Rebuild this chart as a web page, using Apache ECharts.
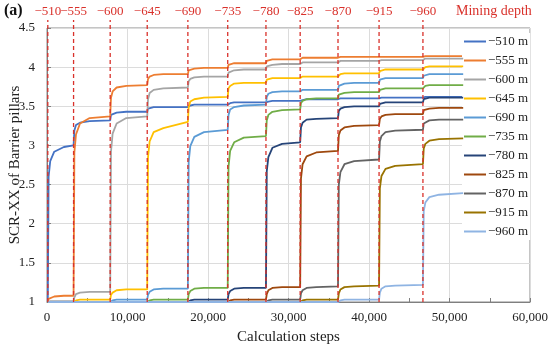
<!DOCTYPE html>
<html><head><meta charset="utf-8">
<script src="https://cdn.jsdelivr.net/npm/echarts@6/dist/echarts.min.js"></script>
<style>html,body{margin:0;padding:0;background:#fff}#c{width:550px;height:350px}</style>
</head><body><div id="c"></div>
<script>
const depthLabels = ['\u2212510','\u2212555','\u2212600','\u2212645','\u2212690','\u2212735','\u2212780','\u2212825','\u2212870','\u2212915','\u2212960'];
const stageStarts = [100, 3300, 7850, 12450, 17500, 22450, 27200, 31450, 36150, 41250, 46700];
const steps = [
  100, 200, 400, 900, 2100,
  3300, 3400, 3600, 4100, 5300,
  7850, 7950, 8150, 8650, 9850,
  12450, 12550, 12750, 13250, 14450,
  17500, 17600, 17800, 18300, 19500,
  22450, 22550, 22750, 23250, 24450,
  27200, 27300, 27500, 28000, 29200,
  31450, 31550, 31750, 32250, 33450,
  36150, 36250, 36450, 36950, 38150,
  41250, 41350, 41550, 42050, 43250,
  46700, 46800, 47000, 47500, 48700,
  51700];
const scr510 = [
  1.00, 2.60, 2.80, 2.92, 2.98,
  3.00, 3.19, 3.26, 3.29, 3.31,
  3.32, 3.39, 3.41, 3.42, 3.43,
  3.43, 3.47, 3.48, 3.49, 3.49,
  3.49, 3.51, 3.51, 3.52, 3.52,
  3.52, 3.54, 3.54, 3.55, 3.55,
  3.55, 3.56, 3.56, 3.57, 3.57,
  3.57, 3.58, 3.58, 3.59, 3.59,
  3.59, 3.59, 3.60, 3.60, 3.60,
  3.60, 3.60, 3.61, 3.61, 3.61,
  3.61, 3.61, 3.62, 3.62, 3.62,
  3.62];
const scr555 = [
  1.00, 1.04, 1.06, 1.07, 1.08,
  1.08, 2.91, 3.14, 3.28, 3.35,
  3.37, 3.61, 3.69, 3.74, 3.76,
  3.77, 3.85, 3.88, 3.90, 3.91,
  3.91, 3.96, 3.97, 3.98, 3.99,
  3.99, 4.03, 4.04, 4.05, 4.05,
  4.05, 4.08, 4.09, 4.10, 4.10,
  4.10, 4.11, 4.12, 4.12, 4.12,
  4.12, 4.13, 4.13, 4.13, 4.13,
  4.13, 4.13, 4.13, 4.13, 4.13,
  4.13, 4.14, 4.14, 4.14, 4.14,
  4.14];
const scr600 = [
  1.00, 1.00, 1.01, 1.01, 1.01,
  1.01, 1.06, 1.10, 1.12, 1.13,
  1.13, 2.92, 3.15, 3.28, 3.35,
  3.37, 3.59, 3.67, 3.71, 3.73,
  3.74, 3.82, 3.85, 3.87, 3.88,
  3.88, 3.93, 3.95, 3.96, 3.97,
  3.97, 4.01, 4.03, 4.03, 4.04,
  4.04, 4.05, 4.06, 4.06, 4.06,
  4.06, 4.07, 4.08, 4.08, 4.08,
  4.08, 4.09, 4.09, 4.09, 4.09,
  4.09, 4.10, 4.11, 4.11, 4.11,
  4.11];
const scr645 = [
  1.00, 1.00, 1.00, 1.00, 1.00,
  1.00, 1.01, 1.02, 1.03, 1.03,
  1.03, 1.09, 1.12, 1.15, 1.16,
  1.16, 2.85, 3.05, 3.17, 3.22,
  3.30, 3.49, 3.56, 3.59, 3.61,
  3.62, 3.73, 3.76, 3.79, 3.80,
  3.80, 3.84, 3.85, 3.86, 3.86,
  3.86, 3.87, 3.88, 3.88, 3.88,
  3.88, 3.90, 3.91, 3.92, 3.92,
  3.92, 3.95, 3.96, 3.97, 3.97,
  3.97, 3.99, 4.00, 4.01, 4.01,
  4.01];
const scr690 = [
  1.00, 1.00, 1.00, 1.00, 1.00,
  1.00, 1.00, 1.00, 1.00, 1.00,
  1.00, 1.01, 1.02, 1.03, 1.03,
  1.03, 1.09, 1.13, 1.16, 1.17,
  1.17, 2.79, 2.99, 3.11, 3.17,
  3.20, 3.39, 3.46, 3.49, 3.51,
  3.52, 3.62, 3.66, 3.68, 3.69,
  3.69, 3.70, 3.71, 3.71, 3.71,
  3.71, 3.76, 3.78, 3.79, 3.80,
  3.80, 3.84, 3.85, 3.86, 3.86,
  3.86, 3.89, 3.90, 3.91, 3.91,
  3.91];
const scr735 = [
  1.00, 1.00, 1.00, 1.00, 1.00,
  1.00, 1.00, 1.00, 1.00, 1.00,
  1.00, 1.00, 1.00, 1.00, 1.00,
  1.00, 1.01, 1.02, 1.03, 1.03,
  1.03, 1.10, 1.14, 1.17, 1.18,
  1.18, 2.73, 2.93, 3.04, 3.10,
  3.12, 3.32, 3.39, 3.43, 3.45,
  3.46, 3.54, 3.57, 3.59, 3.60,
  3.60, 3.65, 3.66, 3.67, 3.68,
  3.68, 3.71, 3.72, 3.73, 3.73,
  3.73, 3.75, 3.76, 3.77, 3.77,
  3.77];
const scr780 = [
  1.00, 1.00, 1.00, 1.00, 1.00,
  1.00, 1.00, 1.00, 1.00, 1.00,
  1.00, 1.00, 1.00, 1.00, 1.00,
  1.00, 1.00, 1.00, 1.00, 1.00,
  1.00, 1.01, 1.02, 1.03, 1.03,
  1.03, 1.10, 1.14, 1.17, 1.18,
  1.18, 2.67, 2.85, 2.97, 3.02,
  3.04, 3.23, 3.29, 3.33, 3.34,
  3.35, 3.44, 3.47, 3.49, 3.50,
  3.50, 3.53, 3.54, 3.55, 3.55,
  3.55, 3.59, 3.60, 3.61, 3.61,
  3.61];
const scr825 = [
  1.00, 1.00, 1.00, 1.00, 1.00,
  1.00, 1.00, 1.00, 1.00, 1.00,
  1.00, 1.00, 1.00, 1.00, 1.00,
  1.00, 1.00, 1.00, 1.00, 1.00,
  1.00, 1.00, 1.00, 1.00, 1.00,
  1.00, 1.01, 1.02, 1.03, 1.03,
  1.03, 1.10, 1.15, 1.18, 1.19,
  1.19, 2.58, 2.76, 2.86, 2.91,
  2.93, 3.13, 3.19, 3.23, 3.25,
  3.26, 3.34, 3.37, 3.39, 3.40,
  3.40, 3.45, 3.46, 3.47, 3.48,
  3.48];
const scr870 = [
  1.00, 1.00, 1.00, 1.00, 1.00,
  1.00, 1.00, 1.00, 1.00, 1.00,
  1.00, 1.00, 1.00, 1.00, 1.00,
  1.00, 1.00, 1.00, 1.00, 1.00,
  1.00, 1.00, 1.00, 1.00, 1.00,
  1.00, 1.00, 1.00, 1.00, 1.00,
  1.00, 1.01, 1.02, 1.03, 1.03,
  1.03, 1.11, 1.15, 1.18, 1.19,
  1.20, 2.50, 2.66, 2.76, 2.80,
  2.82, 3.05, 3.12, 3.17, 3.19,
  3.20, 3.28, 3.30, 3.32, 3.33,
  3.33];
const scr915 = [
  1.00, 1.00, 1.00, 1.00, 1.00,
  1.00, 1.00, 1.00, 1.00, 1.00,
  1.00, 1.00, 1.00, 1.00, 1.00,
  1.00, 1.00, 1.00, 1.00, 1.00,
  1.00, 1.00, 1.00, 1.00, 1.00,
  1.00, 1.00, 1.00, 1.00, 1.00,
  1.00, 1.00, 1.00, 1.00, 1.00,
  1.00, 1.01, 1.02, 1.03, 1.03,
  1.03, 1.11, 1.16, 1.19, 1.20,
  1.21, 2.45, 2.61, 2.70, 2.74,
  2.76, 2.96, 3.02, 3.06, 3.08,
  3.09];
const scr960 = [
  1.00, 1.00, 1.00, 1.00, 1.00,
  1.00, 1.00, 1.00, 1.00, 1.00,
  1.00, 1.00, 1.00, 1.00, 1.00,
  1.00, 1.00, 1.00, 1.00, 1.00,
  1.00, 1.00, 1.00, 1.00, 1.00,
  1.00, 1.00, 1.00, 1.00, 1.00,
  1.00, 1.00, 1.00, 1.00, 1.00,
  1.00, 1.00, 1.00, 1.00, 1.00,
  1.00, 1.01, 1.02, 1.03, 1.03,
  1.03, 1.12, 1.17, 1.20, 1.21,
  1.22, 2.16, 2.27, 2.34, 2.37,
  2.39];

const seriesValues = [scr510, scr555, scr600, scr645, scr690, scr735, scr780, scr825, scr870, scr915, scr960];
const colors = ['#4472C4','#ED7D31','#A5A5A5','#FFC000','#5B9BD5','#70AD47','#264478','#9E480E','#636363','#997300','#8FB4E3'];
const FONT = '"Liberation Serif", "Times New Roman", serif';
const names = depthLabels.map(d => d + ' m');

const lineSeries = seriesValues.map((vals, i) => ({
  name: names[i],
  type: 'line',
  symbol: 'none',
  color: colors[i],
  lineStyle: { width: 1.8, color: colors[i] },
  data: steps.map((s, j) => [s, vals[j]]),
  z: 2 + i,
  animation: false
}));

const stageSeries = {
  type: 'custom',
  name: 'stages',
  clip: false,
  silent: true,
  z: 30,
  animation: false,
  encode: { x: 0, y: 1 },
  data: stageStarts.map((s, i) => [s, 1, i]),
  renderItem: function (params, api) {
    const x = api.value(0);
    const p0 = api.coord([x, 1]);
    const p1 = api.coord([x, 4.5]);
    return {
      type: 'group',
      children: [
        { type: 'line', shape: { x1: p0[0], y1: p0[1], x2: p0[0], y2: p1[1] - 8 },
          style: { stroke: '#D9312B', lineWidth: 1.3, lineDash: [4, 3] } },
        { type: 'text', style: { text: depthLabels[api.value(2)], x: p0[0], y: 12, align: 'center', verticalAlign: 'middle',
          fill: '#D9312B', font: '13px ' + FONT } }
      ]
    };
  }
};

const chart = echarts.init(document.getElementById('c'), null, { renderer: 'canvas' });
chart.setOption({
  animation: false,
  backgroundColor: '#fff',
  grid: { left: 47, right: 20, top: 28, bottom: 48, containLabel: false, outerBoundsMode: 'none',
    show: true, borderColor: '#8a8a8a', borderWidth: 1 },
  xAxis: {
    type: 'value', min: 0, max: 60000, interval: 10000,
    axisLine: { show: true, lineStyle: { color: '#7f7f7f' } },
    axisTick: { show: true, inside: true, length: 4, lineStyle: { color: '#7f7f7f' } },
    minorTick: { show: true, splitNumber: 2, length: 4, lineStyle: { color: '#7f7f7f' } },
    splitLine: { show: true, lineStyle: { color: '#dcdcdc' } },
    axisLabel: { color: '#222', fontFamily: FONT, fontSize: 13, margin: 9,
      formatter: v => String(v).replace(/\B(?=(\d{3})+(?!\d))/g, ',') },
    name: 'Calculation steps', nameLocation: 'middle', nameGap: 28, nameMoveOverlap: false,
    nameTextStyle: { color: '#222', fontFamily: FONT, fontSize: 15 }
  },
  yAxis: {
    type: 'value', min: 1, max: 4.5, interval: 0.5,
    axisLine: { show: true, lineStyle: { color: '#7f7f7f' } },
    axisTick: { show: true, inside: true, length: 4, lineStyle: { color: '#7f7f7f' } },
    splitLine: { show: true, lineStyle: { color: '#dcdcdc' } },
    axisLabel: { color: '#222', fontFamily: FONT, fontSize: 13, margin: 12 },
    name: 'SCR-XX of Barrier pillars', nameLocation: 'middle', nameGap: 24, nameRotate: 90, nameMoveOverlap: false,
    nameTextStyle: { color: '#222', fontFamily: FONT, fontSize: 15 }
  },
  legend: {
    data: names, orient: 'vertical', left: 462, top: 33,
    itemWidth: 22, itemHeight: 10, itemGap: 6,
    backgroundColor: '#fff', padding: [2, 2, 2, 2],
    textStyle: { color: '#222', fontFamily: FONT, fontSize: 13, padding: [0, 0, 0, -3] },
    icon: 'path://M0,4 L22,4 L22,6 L0,6 Z'
  },
  graphic: [
    { type: 'text', left: 4, top: 3, style: { text: '(a)', font: 'bold 16px ' + FONT, fill: '#111' } },
    { type: 'text', left: 456, top: 4, style: { text: 'Mining depth', font: '14px ' + FONT, fill: '#D9312B' } }
  ],
  series: lineSeries.concat([stageSeries])
});
</script>
</body></html>
